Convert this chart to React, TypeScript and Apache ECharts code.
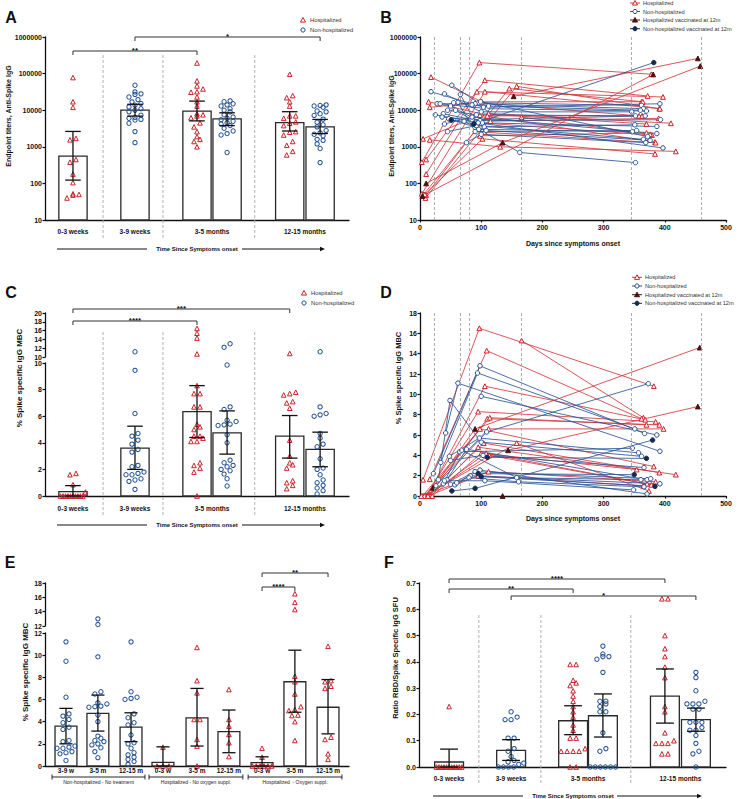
import React, { useEffect, useRef } from "react";
import * as echarts from "echarts";

// ---------------- colours & fonts ----------------
const RED = "#cc2229";
const BLUE = "#1f4f91";
const RED_LINE = "#d2393e";
const BLUE_LINE = "#2a5597";
const DARK_RED = "#4a1212";
const DARK_BLUE = "#142a52";
const INK = "#111111";
const SEP_GREY = "#a8a8a8";
const FONT = "'Liberation Sans', Arial, Helvetica, sans-serif";

// ---------------- Panel A : endpoint titers ----------------
const A_CATEGORIES = ["0-3 weeks", "3-9 weeks", "3-5 months", "12-15 months"];
const A_H_03W = [78000, 17000, 12000, 1700, 1550, 450, 380, 180, 105, 52, 40, 48, 50];
const A_N_39W = [48000, 31600, 28000, 27000, 23000, 19500, 16900, 15200, 13700, 12300, 11000, 10000, 9000, 7300, 6300, 6000, 5600, 5400, 4400, 2600, 1300];
const A_H_35M = [195000, 63000, 46000, 38000, 32000, 31000, 23000, 17000, 13000, 8000, 7500, 7000, 6200, 4500, 3500, 2600, 1900, 1600, 1400, 1000];
const A_N_35M = [18000, 17000, 15000, 14000, 13000, 11000, 10000, 9000, 7500, 6500, 6000, 5500, 5000, 4500, 4200, 3800, 3200, 2700, 2300, 2100, 700];
const A_H_1215M = [96000, 25000, 22000, 17000, 13000, 7000, 7000, 6000, 4800, 4400, 3800, 2600, 2500, 2100, 1400, 1100, 750, 600];
const A_N_1215M = [14000, 13500, 13000, 12000, 9500, 9000, 8000, 7200, 5700, 4700, 4000, 3500, 2800, 2400, 2200, 2000, 1600, 1500, 1200, 900, 370];
const A_MEAN = [556, 10000, 9400, 5800, 4600, 3500];
const A_LOW = [123, 6900, 5100, 3800, 2700, 2300];
const A_HIGH = [2630, 14500, 17700, 8500, 9100, 5600];

// ---------------- Panel B : titers per subject over days ----------------
const B_HOSP = [
  [[18, 80000], [101, 17000], [362, 17000]],
  [[14, 17000], [100, 8000], [370, 4200]],
  [[16, 12000], [95, 16000], [358, 7000]],
  [[5, 1650], [98, 7300], [384, 1350]],
  [[16, 1550], [131, 1000], [418, 750]],
  [[3, 380], [97, 200000], [378, 96000]],
  [[10, 450], [106, 66000], [372, 24500]],
  [[10, 180], [93, 32000], [397, 23000]],
  [[3, 52], [106, 32000], [391, 11000]],
  [[6, 50], [146, 39000], [364, 17000]],
  [[9, 40], [158, 45000], [392, 11000]],
  [[10, 48], [112, 8200], [410, 4400]],
  [[8, 50], [102, 1650], [384, 640]],
  [[110, 7000], [363, 7000]],
  [[115, 5000], [390, 6000]],
  [[100, 4500], [379, 2100]],
  [[98, 2000], [370, 2400]],
  [[166, 6500], [376, 2200]],
  [[105, 2500], [385, 1300]],
];
const B_HOSP_VAC = [
  [[10, 100], [135, 1300], [458, 160000]],
  [[153, 24000], [454, 260000]],
  [[4, 45], [381, 95000]],
];
const B_NONHOSP = [
  [[18, 32000], [104, 12000], [392, 15000]],
  [[52, 48000], [96, 16000], [362, 13500]],
  [[28, 15000], [90, 15000], [365, 11000]],
  [[33, 15000], [110, 11000], [370, 9500]],
  [[40, 28000], [100, 9000], [346, 9000]],
  [[45, 10000], [92, 7500], [352, 7000]],
  [[38, 8000], [85, 5500], [368, 7000]],
  [[36, 6500], [98, 5200], [393, 5500]],
  [[50, 13000], [102, 4500], [387, 3600]],
  [[58, 10000], [105, 3500], [351, 4000]],
  [[66, 27000], [96, 3000], [347, 2600]],
  [[62, 16500], [90, 2600], [354, 2800]],
  [[40, 4200], [85, 6500], [387, 2300]],
  [[45, 2600], [92, 3800], [365, 1600]],
  [[76, 1300], [100, 2200], [369, 1300]],
  [[47, 5800], [108, 2800], [376, 1500]],
  [[25, 7500], [95, 4500], [397, 930]],
  [[72, 5000], [163, 700], [352, 370]],
  [[85, 14000], [99, 17000], [372, 1900]],
  [[55, 16000], [112, 13000], [360, 10000]],
];
const B_NONHOSP_VAC = [[[51, 5400], [88, 4200], [382, 200000]]];
const PERIOD_DAYS = [23, 66, 80, 166, 345, 460];

// ---------------- Panel C : % spike specific IgG MBC ----------------
const C_H_03W = [1.7, 1.6, 0.85, 0.3, 0, 0, 0, 0, 0, 0, 0, 0, 0, 0];
const C_N_39W = [11.2, 9.45, 6.2, 4.7, 4.5, 4.2, 3.9, 3.5, 3.3, 2.3, 2.2, 1.8, 1.7, 1.6, 1.6, 1.3, 1.2, 1.1, 0.5];
const C_H_35M = [16.5, 15.4, 14.3, 10.7, 8.3, 7.7, 7.7, 6.7, 6.7, 5.4, 5.2, 5.0, 4.5, 4.5, 4.35, 4.1, 4.1, 2.5, 2.3, 2.1, 1.8, 0];
const C_N_35M = [13.0, 12.2, 9.85, 6.7, 6.5, 5.7, 5.6, 5.4, 5.35, 5.3, 4.6, 4.0, 2.7, 2.5, 2.3, 2.2, 2.0, 1.9, 1.65, 1.3, 0.75];
const C_H_1215M = [10.8, 7.8, 7.7, 7.6, 7.1, 7.0, 6.6, 4.2, 3.0, 2.5, 2.35, 2.1, 1.15, 1.0, 0.8, 0.55];
const C_N_1215M = [11.2, 6.7, 6.2, 6.1, 6.0, 4.7, 4.35, 3.9, 3.7, 2.8, 2.1, 2.0, 1.6, 1.2, 1.0, 0.8, 0.6, 0.4, 0.15];
const C_MEAN = [0.33, 3.6, 6.35, 4.75, 4.5, 3.5];
const C_LOW = [0, 2.0, 4.4, 3.15, 2.85, 2.2];
const C_HIGH = [0.78, 5.25, 8.3, 6.4, 6.05, 4.8];

// ---------------- Panel D : MBC per subject over days ----------------
const D_HOSP = [
  [[5, 1.6], [97, 16.5], [382, 10.8]],
  [[166, 15.3], [365, 7.7]],
  [[16, 1.65], [109, 14.3], [362, 7.6]],
  [[12, 0], [106, 10.8], [368, 7.5]],
  [[10, 0], [95, 8.3], [385, 7.3]],
  [[14, 0], [110, 7.6], [391, 7.0]],
  [[8, 0], [114, 7.7], [370, 7.0]],
  [[6, 0], [112, 6.6], [398, 6.6]],
  [[4, 0], [98, 6.6], [382, 2.9]],
  [[15, 0], [104, 5.2], [391, 2.3]],
  [[18, 0], [95, 4.8], [418, 2.1]],
  [[20, 0], [100, 4.2], [354, 2.6]],
  [[11, 0], [108, 4.2], [371, 1.2]],
  [[9, 0], [113, 4.0], [378, 1.1]],
  [[7, 0], [158, 5.2], [374, 0.5]],
  [[13, 0], [112, 2.4], [385, 1.4]],
  [[2, 0], [95, 2.0], [365, 1.0]],
];
const D_HOSP_VAC = [
  [[21, 0.8], [90, 6.6], [457, 14.6]],
  [[144, 4.5], [454, 8.8]],
  [[135, 0]],
];
const D_NONHOSP = [
  [[34, 3.3], [94, 12.1], [351, 6.6]],
  [[22, 2.2], [98, 12.8], [367, 6.15]],
  [[100, 9.8], [387, 6.0]],
  [[42, 6.2], [62, 11.1], [392, 4.4]],
  [[30, 1.6], [49, 9.4], [100, 5.3], [362, 3.9]],
  [[38, 1.2], [65, 4.35], [347, 4.7]],
  [[48, 3.9], [97, 5.7], [357, 4.25]],
  [[50, 3.5], [103, 4.0], [366, 2.8]],
  [[44, 1.6], [76, 4.6], [371, 1.6]],
  [[50, 1.15], [90, 2.4], [377, 1.7]],
  [[57, 1.1], [82, 2.0], [392, 1.2]],
  [[40, 1.5], [106, 1.5], [349, 0.6]],
  [[60, 1.3], [98, 2.55], [371, 0.2]],
  [[68, 4.5], [158, 1.8], [361, 1.6]],
  [[80, 1.8], [161, 1.4], [366, 0.9]],
  [[26, 1.0], [109, 6.3], [373, 11.05]],
];
const D_NONHOSP_VAC = [
  [[52, 0.5], [90, 0.75], [380, 5.5]],
  [[95, 2.2], [350, 2.1]],
  [[100, 1.9], [384, 0.95]],
  [[110, 3.8], [370, 3.7]],
];

// ---------------- Panel E : MBC by treatment ----------------
const E_CATEGORIES = ["3-9 w", "3-5 m", "12-15 m", "0-3 w", "3-5 m", "12-15 m", "0-3 w", "3-5 m", "12-15 m"];
const E_GROUP_LABELS = ["Non-hospitalized - No treatment", "Hospitalized - No oxygen suppl.", "Hospitalized  - Oxygen suppl."];
const E_H_NOO2_03W = [1.7, 0, 0, 0];
const E_H_NOO2_35M = [10.7, 7.7, 6.6, 4.2, 4.2, 2.4, 1.8, 0];
const E_H_NOO2_1215M = [6.9, 4.2, 3.6, 2.85, 2.1, 0.85];
const E_H_O2_03W = [1.6, 0.8, 0, 0, 0, 0, 0, 0];
const E_H_O2_35M = [16.5, 15.3, 14.3, 8.1, 7.6, 6.5, 5.35, 5.1, 5.0, 4.6, 4.55, 4.0, 2.3];
const E_H_O2_1215M = [10.8, 7.7, 7.6, 7.2, 7.0, 2.6, 2.4, 1.1, 0.6];
const E_MEAN = [3.6, 4.75, 3.5, 0.33, 4.35, 3.1, 0.3, 7.6, 5.3];
const E_LOW = [2.0, 3.15, 2.2, 0, 1.8, 1.2, 0, 4.85, 2.9];
const E_HIGH = [5.2, 6.4, 4.8, 1.73, 7.0, 5.05, 0.83, 10.45, 7.8];

// ---------------- Panel F : ratio RBD / spike ----------------
const F_H_03W = [0.23, 0, 0, 0, 0, 0, 0, 0, 0, 0, 0, 0];
const F_N_39W = [0.21, 0.19, 0.18, 0.18, 0.11, 0.11, 0.07, 0.06, 0.04, 0.025, 0.02, 0.015, 0.01, 0, 0, 0, 0];
const F_H_35M = [0.39, 0.39, 0.33, 0.32, 0.31, 0.29, 0.27, 0.25, 0.23, 0.21, 0.19, 0.16, 0.14, 0.11, 0.11, 0.07, 0.06, 0.06, 0.06, 0.06, 0, 0];
const F_N_35M = [0.46, 0.43, 0.42, 0.42, 0.41, 0.36, 0.25, 0.25, 0.24, 0.23, 0.21, 0.21, 0.13, 0.07, 0.06, 0, 0, 0, 0, 0, 0];
const F_H_1215M = [0.64, 0.64, 0.5, 0.45, 0.42, 0.38, 0.34, 0.23, 0.21, 0.13, 0.1, 0.09, 0.09, 0.09, 0.05, 0.05];
const F_N_1215M = [0.36, 0.34, 0.29, 0.25, 0.24, 0.24, 0.24, 0.22, 0.22, 0.17, 0.17, 0.17, 0.15, 0.14, 0.14, 0.12, 0.09, 0.06, 0.05, 0];
const F_MEAN = [0.019, 0.063, 0.176, 0.195, 0.27, 0.18];
const F_LOW = [0, 0.025, 0.123, 0.114, 0.167, 0.136];
const F_HIGH = [0.068, 0.104, 0.233, 0.278, 0.373, 0.224];

// ---------------- layout ----------------
const GRIDS = [
  { left: 45, top: 37, width: 304, height: 183 }, // 0 A
  { left: 420, top: 37, width: 306, height: 183 }, // 1 B
  { left: 45, top: 313, width: 304, height: 44 }, // 2 C upper
  { left: 45, top: 363, width: 304, height: 133 }, // 3 C lower
  { left: 420, top: 313, width: 306, height: 183 }, // 4 D
  { left: 45, top: 583, width: 304, height: 43 }, // 5 E upper
  { left: 45, top: 633, width: 304, height: 133 }, // 6 E lower
  { left: 419, top: 583, width: 307, height: 184 }, // 7 F
];
const SLOT_X = [0.92, 2.96, 5.0, 5.99, 8.05, 9.05];
const SLOT_W = 0.93;
const SEP_X = [1.91, 3.88, 6.9];
const E_SLOT_X = [0.69, 1.74, 2.83, 3.88, 5.0, 6.05, 7.14, 8.22, 9.31];
const E_SLOT_W = 0.72;
const F_SLOT_X = [0.98, 3.0, 5.02, 5.99, 8.01, 9.02];
const F_SLOT_W = 0.94;
const F_SEP_X = [1.95, 3.97, 6.9];

type Scale = { grid: number; min: number; max: number; log?: boolean };

function toPyFn(s: Scale) {
  const h = GRIDS[s.grid].height;
  if (s.log) {
    const a = Math.log10(s.min), b = Math.log10(s.max);
    return (v: number) => -((Math.log10(v) - a) / (b - a)) * h;
  }
  return (v: number) => -((v - s.min) / (s.max - s.min)) * h;
}

// GraphPad-like row arrangement of dots around a bar centre
function swarm(values: number[], cx: number, s: Scale, bw: number, d: number) {
  const unitPx = GRIDS[s.grid].width / 10;
  const maxW = bw * unitPx * 0.88;
  const toPy = toPyFn(s);
  const pts = values.map((v) => ({ v, py: toPy(v) })).sort((a, b) => b.py - a.py);
  const rows: any[][] = [];
  for (const p of pts) {
    const row = rows[rows.length - 1];
    if (row && Math.abs(p.py - row[0].py) < d * 0.8) row.push(p);
    else rows.push([p]);
  }
  const out: number[][] = [];
  rows.forEach((row) => {
    const n = row.length;
    const step = n > 1 ? Math.min(d * 1.2, maxW / (n - 1)) : 0;
    row.forEach((p, j) => out.push([cx + ((j - (n - 1) / 2) * step) / unitPx, p.v]));
  });
  return out;
}

function dotSeries(values: number[], cx: number, s: Scale, kind: string, bw: number) {
  const hosp = kind === "H";
  return {
    type: "scatter",
    xAxisIndex: s.grid,
    yAxisIndex: s.grid,
    z: 3,
    silent: true,
    symbol: hosp ? "triangle" : "circle",
    symbolSize: hosp ? 4.6 : 4.3,
    itemStyle: { color: "rgba(255,255,255,0)", borderColor: hosp ? RED : BLUE, borderWidth: 1, opacity: 1 },
    data: swarm(values, cx, s, bw, 5),
  };
}

function splitDots(values: number[], cx: number, lower: Scale, upper: Scale, kind: string, bw: number) {
  const lo = values.filter((v) => v <= lower.max);
  const hi = values.filter((v) => v > lower.max);
  const out: any[] = [dotSeries(lo, cx, lower, kind, bw)];
  if (hi.length) out.push(dotSeries(hi, cx, upper, kind, bw));
  return out;
}

function barSeries(grid: number, xs: number[], means: number[], bw: number, base: number) {
  return {
    type: "custom",
    xAxisIndex: grid,
    yAxisIndex: grid,
    z: 1,
    silent: true,
    data: xs.map((x, i) => [x, means[i]]),
    renderItem: (params: any, api: any) => {
      const x = api.value(0);
      const m = api.value(1);
      const top = api.coord([x, m]);
      const bot = api.coord([x, base]);
      const w = api.size([bw, 0], [x, base])[0];
      return {
        type: "rect",
        shape: { x: top[0] - w / 2, y: top[1], width: w, height: bot[1] - top[1] },
        style: { fill: "#ffffff", stroke: "#2a2a2a", lineWidth: 1.3 },
      };
    },
  };
}

function errSeries(grid: number, xs: number[], lows: number[], highs: number[], capW: number, base: number) {
  return {
    type: "custom",
    xAxisIndex: grid,
    yAxisIndex: grid,
    z: 4,
    silent: true,
    data: xs.map((x, i) => [x, lows[i], highs[i]]),
    renderItem: (params: any, api: any) => {
      const x = api.value(0);
      const lo = api.value(1);
      const hi = api.value(2);
      const pLo = api.coord([x, lo]);
      const pHi = api.coord([x, hi]);
      const cw = api.size([capW, 0], [x, base])[0];
      const st = { stroke: INK, lineWidth: 1.3 };
      return {
        type: "group",
        children: [
          { type: "line", shape: { x1: pLo[0], y1: pLo[1], x2: pHi[0], y2: pHi[1] }, style: st },
          { type: "line", shape: { x1: pHi[0] - cw / 2, y1: pHi[1], x2: pHi[0] + cw / 2, y2: pHi[1] }, style: st },
          { type: "line", shape: { x1: pLo[0] - cw / 2, y1: pLo[1], x2: pLo[0] + cw / 2, y2: pLo[1] }, style: st },
        ],
      };
    },
  };
}

function subjectSeries(grid: number, subjects: number[][][], lineColor: string, symbol: string, fill: string, stroke: string) {
  const out: any[] = subjects.map((s) => ({
    type: "line",
    xAxisIndex: grid,
    yAxisIndex: grid,
    data: s,
    showSymbol: false,
    symbol: "none",
    z: 2,
    silent: true,
    lineStyle: { color: lineColor, width: 0.85 },
  }));
  out.push({
    type: "scatter",
    xAxisIndex: grid,
    yAxisIndex: grid,
    z: 3,
    silent: true,
    symbol,
    symbolSize: symbol === "triangle" ? 4.8 : 4.5,
    itemStyle: { color: fill, borderColor: stroke, borderWidth: 1, opacity: 1 },
    data: ([] as number[][]).concat(...subjects),
  });
  return out;
}

const tickLabel = { fontSize: 7, fontWeight: "bold", color: INK, fontFamily: FONT, margin: 3 };
const axisLine = { show: true, onZero: false, lineStyle: { color: INK, width: 1.3 } };
const axisTick = { show: true, length: 2.5, lineStyle: { color: INK, width: 1.2 } };

function buildOption() {
  const series: any[] = [];

  // ---- A ----
  const sA: Scale = { grid: 0, min: 10, max: 1000000, log: true };
  const aGroups: [number[], string][] = [[A_H_03W, "H"], [A_N_39W, "N"], [A_H_35M, "H"], [A_N_35M, "N"], [A_H_1215M, "H"], [A_N_1215M, "N"]];
  series.push(barSeries(0, SLOT_X, A_MEAN, SLOT_W, 10));
  aGroups.forEach(([v, k], i) => series.push(dotSeries(v, SLOT_X[i], sA, k, SLOT_W)));
  series.push(errSeries(0, SLOT_X, A_LOW, A_HIGH, SLOT_W * 0.55, 10));

  // ---- B ----
  series.push({
    type: "line", xAxisIndex: 1, yAxisIndex: 1, data: [[0, 10]], showSymbol: false, symbol: "none", z: 1, silent: true,
    lineStyle: { width: 0 },
    markLine: { silent: true, symbol: ["none", "none"], label: { show: false }, lineStyle: { color: "#9a9a9a", type: [3, 2], width: 0.8 }, data: PERIOD_DAYS.map((d) => ({ xAxis: d })) },
  });
  series.push(...subjectSeries(1, B_HOSP, RED_LINE, "triangle", "#ffffff", RED));
  series.push(...subjectSeries(1, B_NONHOSP, BLUE_LINE, "circle", "#ffffff", BLUE));
  series.push(...subjectSeries(1, B_HOSP_VAC, RED_LINE, "triangle", DARK_RED, DARK_RED));
  series.push(...subjectSeries(1, B_NONHOSP_VAC, BLUE_LINE, "circle", DARK_BLUE, DARK_BLUE));

  // ---- C ----
  const cLo: Scale = { grid: 3, min: 0, max: 10 };
  const cHi: Scale = { grid: 2, min: 10, max: 20 };
  const cGroups: [number[], string][] = [[C_H_03W, "H"], [C_N_39W, "N"], [C_H_35M, "H"], [C_N_35M, "N"], [C_H_1215M, "H"], [C_N_1215M, "N"]];
  series.push(barSeries(3, SLOT_X, C_MEAN, SLOT_W, 0));
  cGroups.forEach(([v, k], i) => series.push(...splitDots(v, SLOT_X[i], cLo, cHi, k, SLOT_W)));
  series.push(errSeries(3, SLOT_X, C_LOW, C_HIGH, SLOT_W * 0.55, 0));

  // ---- D ----
  series.push({
    type: "line", xAxisIndex: 4, yAxisIndex: 4, data: [[0, 0]], showSymbol: false, symbol: "none", z: 1, silent: true,
    lineStyle: { width: 0 },
    markLine: { silent: true, symbol: ["none", "none"], label: { show: false }, lineStyle: { color: "#9a9a9a", type: [3, 2], width: 0.8 }, data: PERIOD_DAYS.map((d) => ({ xAxis: d })) },
  });
  series.push(...subjectSeries(4, D_HOSP, RED_LINE, "triangle", "#ffffff", RED));
  series.push(...subjectSeries(4, D_NONHOSP, BLUE_LINE, "circle", "#ffffff", BLUE));
  series.push(...subjectSeries(4, D_HOSP_VAC, RED_LINE, "triangle", DARK_RED, DARK_RED));
  series.push(...subjectSeries(4, D_NONHOSP_VAC, BLUE_LINE, "circle", DARK_BLUE, DARK_BLUE));

  // ---- E ----
  const eLo: Scale = { grid: 6, min: 0, max: 12 };
  const eHi: Scale = { grid: 5, min: 12, max: 18 };
  const eGroups: [number[], string][] = [
    [C_N_39W, "N"], [C_N_35M, "N"], [C_N_1215M, "N"],
    [E_H_NOO2_03W, "H"], [E_H_NOO2_35M, "H"], [E_H_NOO2_1215M, "H"],
    [E_H_O2_03W, "H"], [E_H_O2_35M, "H"], [E_H_O2_1215M, "H"],
  ];
  series.push(barSeries(6, E_SLOT_X, E_MEAN, E_SLOT_W, 0));
  eGroups.forEach(([v, k], i) => series.push(...splitDots(v, E_SLOT_X[i], eLo, eHi, k, E_SLOT_W)));
  series.push(errSeries(6, E_SLOT_X, E_LOW, E_HIGH, E_SLOT_W * 0.6, 0));

  // ---- F ----
  const sF: Scale = { grid: 7, min: 0, max: 0.7 };
  const fGroups: [number[], string][] = [[F_H_03W, "H"], [F_N_39W, "N"], [F_H_35M, "H"], [F_N_35M, "N"], [F_H_1215M, "H"], [F_N_1215M, "N"]];
  series.push(barSeries(7, F_SLOT_X, F_MEAN, F_SLOT_W, 0));
  fGroups.forEach(([v, k], i) => series.push(dotSeries(v, F_SLOT_X[i], sF, k, F_SLOT_W)));
  series.push(errSeries(7, F_SLOT_X, F_LOW, F_HIGH, F_SLOT_W * 0.62, 0));

  const barX = (show: boolean) => ({
    type: "value", min: 0, max: 10, show,
    axisLine, axisTick: { show: false }, axisLabel: { show: false }, splitLine: { show: false },
  });
  const dayX = () => ({
    type: "value", min: 0, max: 500, interval: 100,
    axisLine, axisTick, axisLabel: { ...tickLabel, margin: 4 }, splitLine: { show: false },
  });
  const linY = (min: number, max: number, interval: number, fmt?: (v: number) => string) => ({
    type: "value", min, max, interval,
    axisLine, axisTick, axisLabel: { ...tickLabel, formatter: fmt || ((v: number) => String(Math.round(v))) }, splitLine: { show: false },
  });
  const logY = () => ({
    type: "log", logBase: 10, min: 10, max: 1000000,
    axisLine, axisTick, minorTick: { show: false },
    axisLabel: { ...tickLabel, formatter: (v: number) => String(Math.round(v)) }, splitLine: { show: false },
  });

  return {
    animation: false,
    backgroundColor: "#ffffff",
    textStyle: { fontFamily: FONT },
    grid: GRIDS.map((g) => ({ ...g, containLabel: false })),
    xAxis: [
      { ...barX(true), gridIndex: 0 },
      { ...dayX(), gridIndex: 1 },
      { ...barX(false), gridIndex: 2 },
      { ...barX(true), gridIndex: 3 },
      { ...dayX(), gridIndex: 4 },
      { ...barX(false), gridIndex: 5 },
      { ...barX(true), gridIndex: 6 },
      { ...barX(true), gridIndex: 7 },
    ],
    yAxis: [
      { ...logY(), gridIndex: 0 },
      { ...logY(), gridIndex: 1 },
      { ...linY(10, 20, 2), gridIndex: 2 },
      { ...linY(0, 10, 2), gridIndex: 3 },
      { ...linY(0, 18, 2), gridIndex: 4 },
      { ...linY(12, 18, 2), gridIndex: 5 },
      { ...linY(0, 12, 2), gridIndex: 6 },
      { ...linY(0, 0.7, 0.1, (v: number) => v.toFixed(1)), gridIndex: 7 },
    ],
    series,
  };
}

function buildGraphics(chart: any) {
  const g: any[] = [];
  const P = (grid: number, x: number, y: number) => chart.convertToPixel({ gridIndex: grid }, [x, y]) as number[];
  const text = (t: string, x: number, y: number, o: any = {}, extra: any = {}) =>
    g.push({
      type: "text", x, y, z: 100, silent: true, ...extra,
      style: {
        text: t, fill: INK, fontFamily: FONT, fontSize: 7, fontWeight: "bold",
        align: "center", verticalAlign: "middle", textAlign: "center", textVerticalAlign: "middle", ...o,
      },
    });
  const line = (x1: number, y1: number, x2: number, y2: number, st: any = {}) =>
    g.push({ type: "line", z: 100, silent: true, shape: { x1, y1, x2, y2 }, style: { stroke: INK, lineWidth: 1, ...st } });
  const tri = (cx: number, cy: number, s: number, st: any) =>
    g.push({ type: "polygon", z: 101, silent: true, shape: { points: [[cx, cy - s * 0.55], [cx - s * 0.55, cy + s * 0.45], [cx + s * 0.55, cy + s * 0.45]] }, style: st });
  const circ = (cx: number, cy: number, r: number, st: any) =>
    g.push({ type: "circle", z: 101, silent: true, shape: { cx, cy, r }, style: st });
  const bracket = (x1: number, x2: number, y: number, label: string) => {
    g.push({ type: "polyline", z: 100, silent: true, shape: { points: [[x1, y + 4], [x1, y], [x2, y], [x2, y + 4]] }, style: { stroke: "#333", lineWidth: 1, fill: "none" } });
    text(label, (x1 + x2) / 2, y + 3.2, { fontSize: 8, verticalAlign: "bottom", textVerticalAlign: "bottom" });
  };
  const arrow = (x1: number, x2: number, xt: number, x3: number, x4: number, y: number) => {
    line(x1, y, x2, y, { lineWidth: 1 });
    text("Time Since Symptoms onset", xt, y, { fontSize: 6 });
    line(x3, y, x4 - 3, y, { lineWidth: 1 });
    g.push({ type: "polygon", z: 100, silent: true, shape: { points: [[x4, y], [x4 - 5, y - 2.2], [x4 - 5, y + 2.2]] }, style: { fill: INK } });
  };
  const rot = { rotation: Math.PI / 2 };

  // panel letters
  text("A", 11, 17, { fontSize: 16 });
  text("B", 386, 17, { fontSize: 16 });
  text("C", 11, 292, { fontSize: 16 });
  text("D", 386, 292, { fontSize: 16 });
  text("E", 10, 562, { fontSize: 16 });
  text("F", 389, 562, { fontSize: 16 });

  // y-axis titles
  text("Endpoint titers, Anti-Spike IgG", 8, 116, { fontSize: 7 }, rot);
  text("Endpoint titers, Anti-Spike IgG", 391, 126, { fontSize: 7 }, rot);
  text("% Spike specific IgG MBC", 19, 378, { fontSize: 8 }, rot);
  text("% Spike specific IgG MBC", 398, 378, { fontSize: 7.5 }, rot);
  text("% Spike specific IgG MBC", 25, 672, { fontSize: 8 }, rot);
  text("Ratio RBD/Spike Specific IgG SFU", 395, 658, { fontSize: 7.5 }, rot);

  // x titles for B/D
  text("Days since symptoms onset", 573, 243, { fontSize: 7 });
  text("Days since symptoms onset", 573, 518, { fontSize: 7 });

  // simple legends (A, C)
  const simpleLegend = (x: number, y1: number, y2: number) => {
    tri(x, y1, 4.6, { fill: "#fff", stroke: RED, lineWidth: 1 });
    text("Hospitalized", x + 7, y1, { fontSize: 5.8, fontWeight: "normal", align: "left", textAlign: "left", fill: "#333" });
    circ(x, y2, 2.1, { fill: "#fff", stroke: BLUE, lineWidth: 1 });
    text("Non-hospitalized", x + 7, y2, { fontSize: 5.8, fontWeight: "normal", align: "left", textAlign: "left", fill: "#333" });
  };
  simpleLegend(303, 20, 30);
  simpleLegend(304, 293, 303);

  // line legends (B, D)
  const lineLegend = (xc: number, ys: number[]) => {
    const items = [
      { name: "Hospitalized", lc: RED_LINE, sym: "t", fill: "#fff", stroke: RED },
      { name: "Non-hospitalized", lc: BLUE_LINE, sym: "c", fill: "#fff", stroke: BLUE },
      { name: "Hospitalized vaccinated at 12m", lc: DARK_RED, sym: "t", fill: DARK_RED, stroke: DARK_RED },
      { name: "Non-hospitalized vaccinated at 12m", lc: DARK_BLUE, sym: "c", fill: DARK_BLUE, stroke: DARK_BLUE },
    ];
    items.forEach((it, i) => {
      const y = ys[i];
      line(xc - 5, y, xc + 5, y, { stroke: it.lc, lineWidth: 1 });
      if (it.sym === "t") tri(xc, y, 4.6, { fill: it.fill, stroke: it.stroke, lineWidth: 1 });
      else circ(xc, y, 2.1, { fill: it.fill, stroke: it.stroke, lineWidth: 1 });
      text(it.name, xc + 8, y, { fontSize: 5.6, fontWeight: "normal", align: "left", textAlign: "left", fill: "#333" });
    });
  };
  lineLegend(635, [3, 11.5, 20, 28.7]);
  lineLegend(637, [277.3, 286, 294.7, 303.3]);

  // A: separators, labels, brackets, arrow
  const ax = (i: number) => P(0, SLOT_X[i], 10)[0];
  SEP_X.forEach((s) => line(P(0, s, 10)[0], 55, P(0, s, 10)[0], 238, { stroke: SEP_GREY, lineWidth: 0.9, lineDash: [3, 2] }));
  const aLabX = [ax(0), ax(1), (ax(2) + ax(3)) / 2, (ax(4) + ax(5)) / 2];
  A_CATEGORIES.forEach((c, i) => text(c, aLabX[i], 231, { fontSize: 6.5 }));
  bracket(ax(0), ax(2), 51, "**");
  bracket(ax(1), ax(5), 37, "*");
  arrow(57, 147, 197, 242, 325, 249);

  // C
  const cx = (i: number) => P(3, SLOT_X[i], 0)[0];
  SEP_X.forEach((s) => line(P(3, s, 0)[0], 332, P(3, s, 0)[0], 517, { stroke: SEP_GREY, lineWidth: 0.9, lineDash: [3, 2] }));
  const cLabX = [cx(0), cx(1), (cx(2) + cx(3)) / 2, (cx(4) + cx(5)) / 2];
  A_CATEGORIES.forEach((c, i) => text(c, cLabX[i], 508, { fontSize: 6.5 }));
  bracket(cx(0), cx(2), 321, "****");
  bracket(cx(0), cx(4), 309, "***");
  arrow(57, 147, 197, 242, 325, 525);

  // E
  const ex = (i: number) => P(6, E_SLOT_X[i], 0)[0];
  const eHalf = P(6, E_SLOT_W, 0)[0] - P(6, 0, 0)[0];
  E_CATEGORIES.forEach((c, i) => text(c, ex(i), 770.5, { fontSize: 6.5 }));
  E_GROUP_LABELS.forEach((lab, k) => {
    const xl = ex(k * 3) - eHalf / 2 - 3;
    const xr = ex(k * 3 + 2) + eHalf / 2 + 3;
    line(xl, 777, xr, 777, { lineWidth: 0.9 });
    line(xl, 774.5, xl, 779.5, { lineWidth: 0.9 });
    line(xr, 774.5, xr, 779.5, { lineWidth: 0.9 });
    text(lab, (xl + xr) / 2, 781.5, { fontSize: 5, fontWeight: "normal", fill: "#222" });
  });
  bracket(ex(6), ex(7), 587, "****");
  bracket(ex(6), ex(8), 573, "**");

  // F
  const fx = (i: number) => P(7, F_SLOT_X[i], 0)[0];
  F_SEP_X.forEach((s) => line(P(7, s, 0)[0], 615, P(7, s, 0)[0], 783, { stroke: SEP_GREY, lineWidth: 0.9, lineDash: [3, 2] }));
  const fLabX = [fx(0), fx(1), (fx(2) + fx(3)) / 2, (fx(4) + fx(5)) / 2];
  A_CATEGORIES.forEach((c, i) => text(c, fLabX[i], 778, { fontSize: 6.5 }));
  bracket(fx(0), fx(4), 579, "****");
  bracket(fx(0), fx(2), 589, "**");
  bracket(fx(1), fx(5), 596, "*");
  arrow(433, 523, 573, 617, 702, 796);

  return g;
}

export default function App() {
  const ref = useRef<HTMLDivElement>(null);
  useEffect(() => {
    if (!ref.current) return;
    const chart = echarts.init(ref.current, undefined, { renderer: "svg", width: 739, height: 799 });
    chart.setOption(buildOption() as any);
    chart.setOption({ graphic: buildGraphics(chart) } as any);
    return () => chart.dispose();
  }, []);
  return (
    <div
      ref={ref}
      style={{ position: "fixed", left: 0, top: 0, width: 739, height: 799, background: "#ffffff" }}
    />
  );
}
